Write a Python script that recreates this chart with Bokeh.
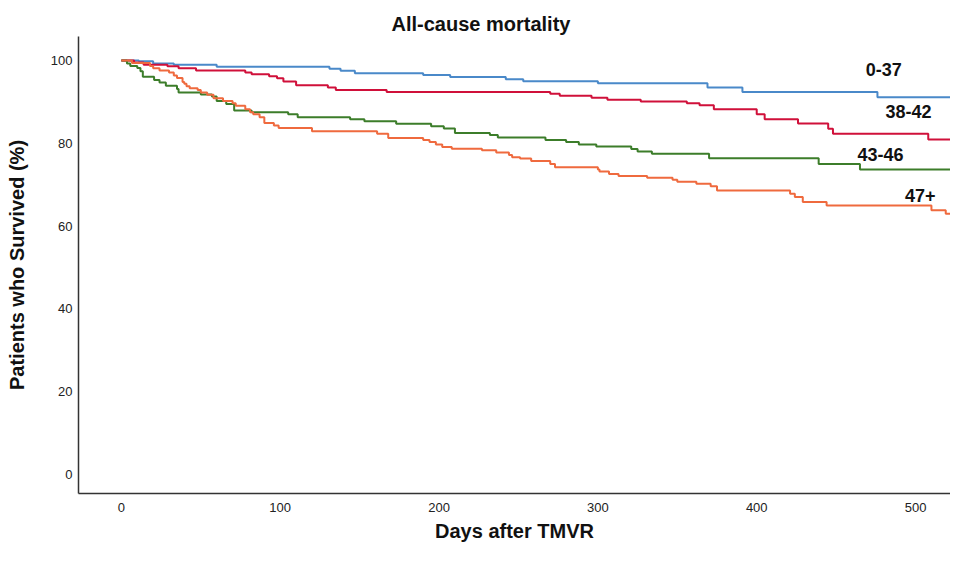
from bokeh.plotting import figure
from bokeh.embed import file_html
from bokeh.resources import INLINE
from bokeh.models import Range1d, FixedTicker
from bokeh.core.properties import value

# ---- data ----
days_b = [0, 11, 20, 33, 60, 131, 138, 147, 190, 207, 242, 253, 300, 369, 391, 476, 528]
surv_b = [100, 99.8, 99.3, 99.0, 98.5, 98.0, 97.5, 96.9, 96.5, 96.0, 95.5, 95.0, 94.5, 93.5, 92.4, 91.1, 91.1]

days_r = [0, 8, 14, 29, 36, 47, 78, 82, 93, 98, 102, 110, 130, 135, 167, 270, 276, 296, 306, 327,
          356, 364, 373, 400, 405, 426, 445, 448, 508, 528]
surv_r = [100, 99.5, 99.0, 98.6, 98.1, 97.6, 97.1, 96.7, 96.2, 95.7, 94.9, 94.0, 93.5, 92.9, 92.4, 92.0,
          91.5, 91.0, 90.5, 90.1, 89.7, 89.2, 88.2, 87.0, 85.8, 84.8, 83.5, 82.3, 80.9, 80.9]

days_g = [0, 3.5, 5.6, 10, 12, 13.5, 20.6, 24, 28, 35, 36, 50, 57, 60, 66, 71, 82, 105, 111, 144,
          153, 173, 195, 203, 210, 232, 237, 267, 280, 288, 299, 321, 325, 334, 370, 439, 465, 528]
surv_g = [100, 99.3, 98.7, 98.2, 97.4, 96.1, 95.3, 94.7, 93.9, 93.1, 92.3, 91.8, 91.3, 90.2, 89.5, 87.9,
          87.5, 87.0, 86.3, 85.8, 85.3, 84.7, 84.1, 83.6, 82.5, 82.0, 81.4, 80.8, 80.3, 79.7, 79.2, 78.6,
          78.0, 77.5, 76.4, 75.0, 73.7, 73.7]

days_o = [0, 6.7, 18, 20, 24, 30, 33, 35, 38.5, 39.6, 41, 43, 48, 50, 54, 58, 64, 70, 72, 78,
          81, 83, 87, 90, 96, 99, 120, 161, 168, 190, 194, 198, 202, 208, 227, 236, 244, 246, 251, 258,
          270, 273, 300, 301, 307, 313, 331, 347, 350, 362, 371, 375, 421, 424, 429, 444, 510, 519, 523, 528]
surv_o = [100, 99.4, 98.7, 98.1, 97.6, 97.1, 96.4, 95.8, 94.8, 94.4, 93.8, 93.3, 92.9, 92.3, 91.7, 90.9,
          90.2, 89.7, 89.1, 88.2, 87.5, 87.0, 86.3, 84.9, 84.3, 83.7, 82.9, 82.3, 81.3, 80.8, 80.3, 79.7,
          79.1, 78.7, 78.3, 77.8, 77.2, 76.6, 76.3, 75.7, 75.0, 74.2, 73.7, 73.2, 72.6, 72.1, 71.7, 71.2,
          70.7, 70.2, 69.6, 68.6, 67.8, 67.0, 65.8, 65.0, 63.8, 63.0, 61.8, 61.8]

group_names = ["0-37", "38-42", "43-46", "47+"]
label_x = [480, 495.5, 478, 503]
label_y = [97.8, 87.8, 77.3, 67.5]

x_ticks = [0, 100, 200, 300, 400, 500]
y_ticks = [0, 20, 40, 60, 80, 100]

colors = ["#4A89C9", "#D0103A", "#3C7D2A", "#EF6A3E"]

FONT = "Liberation Sans"

p = figure(width=950, height=545, output_backend="svg", toolbar_location=None,
           x_range=Range1d(-27, 522), y_range=Range1d(-4.6, 105.8),
           min_border_left=78, min_border_right=0, min_border_top=36, min_border_bottom=52,
           title="All-cause mortality")
p.outline_line_color = None
p.xgrid.visible = False
p.ygrid.visible = False
p.background_fill_color = "white"
p.border_fill_color = "white"

p.title.text_font = FONT
p.title.text_font_size = "20px"
p.title.text_font_style = "bold"
p.title.align = "left"
p.title.offset = 313
p.title.standoff = 4
p.title.text_color = "#111111"

for xs, ys, c in [(days_b, surv_b, colors[0]), (days_r, surv_r, colors[1]),
                  (days_g, surv_g, colors[2]), (days_o, surv_o, colors[3])]:
    p.step(xs, ys, mode="after", line_color=c, line_width=2)

p.text(x=label_x, y=label_y, text=group_names, text_font=value(FONT),
       text_font_size="18px", text_font_style="bold", text_align="center",
       text_baseline="middle", text_color="#111111")

for ax in (p.xaxis[0], p.yaxis[0]):
    ax.axis_line_color = "#333333"
    ax.axis_line_width = 1.5
    ax.major_tick_line_color = None
    ax.minor_tick_line_color = None
    ax.major_tick_out = 0
    ax.major_tick_in = 0
    ax.minor_tick_out = 0
    ax.minor_tick_in = 0
    ax.major_label_text_font = FONT
    ax.major_label_text_font_size = "13px"
    ax.major_label_text_color = "#222222"
    ax.axis_label_text_font = FONT
    ax.axis_label_text_font_size = "20px"
    ax.axis_label_text_font_style = "bold"
    ax.axis_label_text_color = "#111111"

p.xaxis.ticker = FixedTicker(ticks=x_ticks)
p.yaxis.ticker = FixedTicker(ticks=y_ticks)
p.xaxis.axis_label = "Days after TMVR"
p.yaxis.axis_label = "Patients who Survived (%)"
p.xaxis.major_label_standoff = 9
p.xaxis.axis_label_standoff = 5
p.yaxis.major_label_standoff = 6
p.yaxis.axis_label_standoff = 20

open("out.html", "w").write(file_html(p, INLINE))
